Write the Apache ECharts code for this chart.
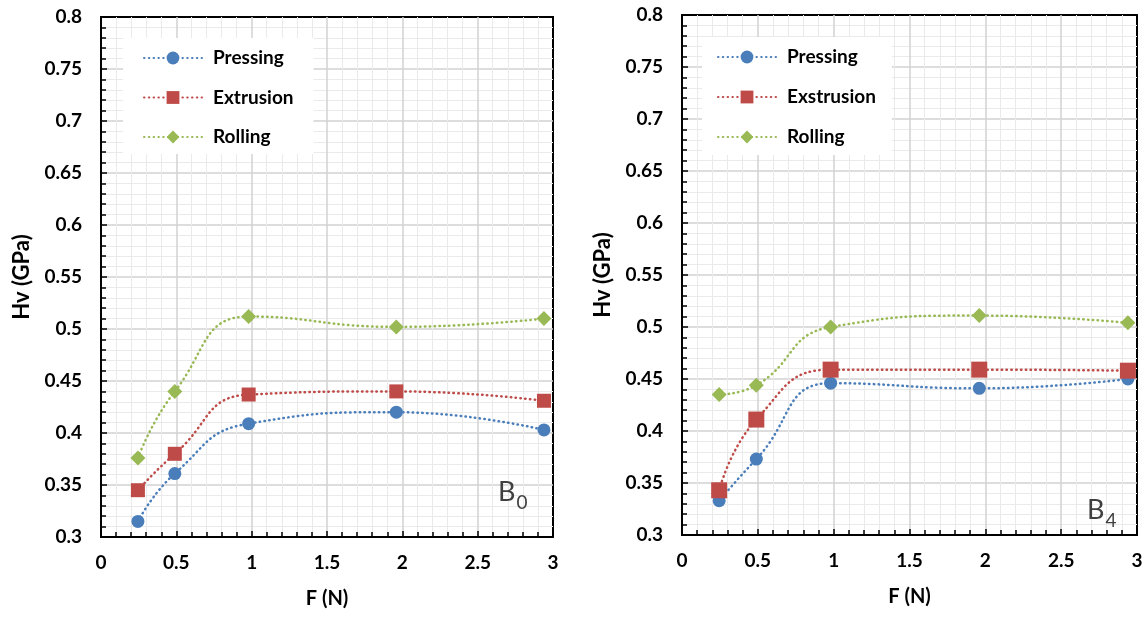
<!DOCTYPE html>
<html>
<head>
<meta charset="utf-8">
<script src="https://cdn.jsdelivr.net/npm/echarts@6/dist/echarts.min.js"></script>
<style>
html,body{margin:0;padding:0;background:#fff;}
#chart{width:1146px;height:617px;}
</style>
</head>
<body>
<div id="chart"></div>
<script>
// ---- data ----
const forceN = [0.245, 0.49, 0.98, 1.96, 2.94];
const pressingB0  = [0.315, 0.361, 0.409, 0.420, 0.403];
const extrusionB0 = [0.345, 0.380, 0.437, 0.440, 0.431];
const rollingB0   = [0.376, 0.440, 0.512, 0.502, 0.510];
const pressingB4  = [0.333, 0.373, 0.446, 0.441, 0.450];
const extrusionB4 = [0.343, 0.411, 0.459, 0.459, 0.458];
const rollingB4   = [0.435, 0.444, 0.500, 0.511, 0.504];
const legendB0 = ['Pressing', 'Extrusion', 'Rolling'];
const legendB4 = ['Pressing', 'Exstrusion', 'Rolling'];
const panelLabels = ['0', '4'];
const xName = 'F (N)';
const yName = 'Hv (GPa)';

const FONT = 'Lato, "Open Sans", sans-serif';
const colors = { blue: '#4a7ebb', red: '#be4b48', green: '#98b954' };

function pairs(ys) { return forceN.map((x, i) => [x, ys[i]]); }

function xAxis(gi) {
  return {
    type: 'value', gridIndex: gi, min: 0, max: 3, interval: 0.5,
    name: xName, nameLocation: 'middle', nameGap: 52,
    nameTextStyle: { fontFamily: FONT, fontWeight: 'bold', fontSize: 20, color: '#000' },
    axisLine: { show: true, onZero: false, lineStyle: { color: '#000', width: 2 } },
    axisTick: { show: true, inside: true, length: 6, lineStyle: { color: '#000', width: 1.5 } },
    minorTick: { show: true, splitNumber: 5, length: 5, lineStyle: { color: '#000', width: 1.5 } },
    axisLabel: { margin: 16, fontFamily: FONT, fontWeight: 'bold', fontSize: 19, color: '#000',
      formatter: v => String(+v.toFixed(2)) },
    splitLine: { show: true, showMaxLine: false, lineStyle: { color: '#d2d2d2', width: 1.5 } },
    minorSplitLine: { show: true, lineStyle: { color: '#eaeaea', width: 1 } }
  };
}
function yAxis(gi) {
  return {
    type: 'value', gridIndex: gi, min: 0.3, max: 0.8, interval: 0.05,
    name: yName, nameLocation: 'middle', nameGap: 68,
    nameTextStyle: { fontFamily: FONT, fontWeight: 'bold', fontSize: 22, color: '#000' },
    axisLine: { show: true, onZero: false, lineStyle: { color: '#000', width: 2 } },
    axisTick: { show: true, inside: true, length: 6, lineStyle: { color: '#000', width: 1.5 } },
    minorTick: { show: true, splitNumber: 5, length: 5, lineStyle: { color: '#000', width: 1.5 } },
    axisLabel: { margin: 19, fontFamily: FONT, fontWeight: 'bold', fontSize: 19, color: '#000',
      formatter: v => String(+v.toFixed(2)) },
    splitLine: { show: true, showMaxLine: false, lineStyle: { color: '#d2d2d2', width: 1.5 } },
    minorSplitLine: { show: true, lineStyle: { color: '#eaeaea', width: 1 } }
  };
}
function line(name, gi, ys, color, symbol, size) {
  return {
    type: 'line', name: name, xAxisIndex: gi, yAxisIndex: gi,
    data: pairs(ys), smooth: 0.5,
    symbol: symbol, symbolSize: size, showSymbol: true,
    lineStyle: { color: color, width: 2.5, type: [0.5, 4.3], cap: 'round' },
    itemStyle: { color: color, borderWidth: 0 },
    emphasis: { disabled: true }, animation: false
  };
}
function legend(gi, data, left, top, gap, pad) {
  return {
    orient: 'vertical', left: left, top: top, data: data,
    itemWidth: 58, itemHeight: 16, itemGap: gap, padding: pad,
    backgroundColor: '#ffffff', selectedMode: false,
    textStyle: { fontFamily: FONT, fontWeight: 'bold', fontSize: 19, color: '#000', lineHeight: 22, padding: [0, 0, 0, 6] }
  };
}
function subLabel(idx, left, top) {
  return {
    type: 'text', left: left, top: top, z: 100,
    style: {
      text: '{a|B}{b|' + panelLabels[idx] + '}',
      rich: {
        a: { fontFamily: FONT, fontSize: 27, fill: '#404040', verticalAlign: 'bottom' },
        b: { fontFamily: FONT, fontSize: 19, fill: '#404040', verticalAlign: 'bottom', padding: [0, 0, -6, 1] }
      }
    }
  };
}

const option = {
  backgroundColor: '#ffffff',
  animation: false,
  grid: [
    { left: 101, top: 17, width: 452, height: 520, show: true, backgroundColor: '#fff', borderColor: '#000', borderWidth: 2 },
    { left: 682, top: 15, width: 455, height: 520, show: true, backgroundColor: '#fff', borderColor: '#000', borderWidth: 2 }
  ],
  xAxis: [xAxis(0), xAxis(1)],
  yAxis: [yAxis(0), yAxis(1)],
  legend: [
    legend(0, legendB0, 123, 38, 17.5, [9, 20, 6, 20]),
    legend(1, legendB4, 702, 37, 18, [9, 16, 7, 15])
  ],
  series: [
    line('Pressing', 0, pressingB0, colors.blue, 'circle', 13),
    line('Extrusion', 0, extrusionB0, colors.red, 'rect', 14),
    line('Rolling', 0, rollingB0, colors.green, 'diamond', 15),
    line('Pressing', 1, pressingB4, colors.blue, 'circle', 13),
    line('Exstrusion', 1, extrusionB4, colors.red, 'rect', 16),
    line('Rolling', 1, rollingB4, colors.green, 'diamond', 15)
  ],
  graphic: [subLabel(0, 498, 479), subLabel(1, 1087, 497)]
};

const chart = echarts.init(document.getElementById('chart'), null, { renderer: 'canvas' });
chart.setOption(option);
</script>
</body>
</html>
